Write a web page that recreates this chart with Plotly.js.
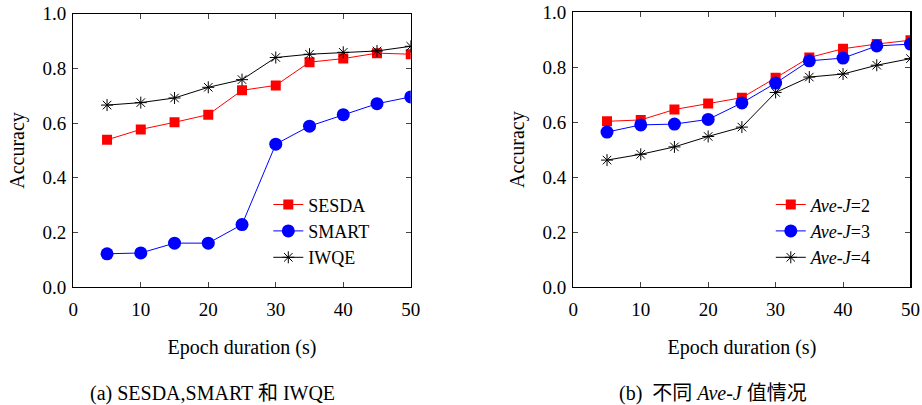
<!DOCTYPE html>
<html><head><meta charset="utf-8">
<script src="https://cdn.plot.ly/plotly-3.0.1.min.js"></script>
<style>html,body{margin:0;padding:0;background:#fff}#c{width:922px;height:405px}</style>
</head><body><div id="c"></div>
<script>
const durations = [5,10,15,20,25,30,35,40,45,50];
const sesda = [0.539,0.577,0.603,0.631,0.720,0.738,0.823,0.836,0.856,0.852];
const smart = [0.122,0.125,0.161,0.161,0.229,0.523,0.589,0.631,0.671,0.696];
const iwqe  = [0.666,0.675,0.692,0.731,0.759,0.840,0.852,0.859,0.864,0.881];
const aveJ2 = [0.603,0.608,0.646,0.668,0.689,0.761,0.835,0.867,0.884,0.898];
const aveJ3 = [0.564,0.590,0.593,0.610,0.670,0.742,0.823,0.833,0.877,0.884];
const aveJ4 = [0.462,0.483,0.510,0.548,0.582,0.708,0.764,0.775,0.807,0.831];
const leftNames = ['SESDA','SMART','IWQE'];
const rightNames = ['<i>Ave-J</i>=2','<i>Ave-J</i>=3','<i>Ave-J</i>=4'];
const xTicks = [0,10,20,30,40,50];
const yTicks = [0,0.2,0.4,0.6,0.8,1.0];

const FONT = '"Liberation Serif", "Times New Roman", serif';
const CFONT = '"Liberation Serif", "Noto Sans CJK SC", serif';
const styles = [
  {color:'#ff0000', marker:{symbol:'square', size:10, color:'#ff0000'}},
  {color:'#0000ff', marker:{symbol:'circle', size:13, color:'#0000ff'}},
  {color:'#000000', marker:{symbol:'asterisk-open', size:10, color:'#000000', line:{width:1, color:'#000'}}}
];
function tr(y, name, i, ax, leg){
  return {x:durations, y:y, name:name, type:'scatter', mode:'lines+markers',
    xaxis:ax[0], yaxis:ax[1], legend:leg,
    line:{color:styles[i].color, width:1}, marker:styles[i].marker};
}
const data = [
  tr(sesda, leftNames[0], 0, ['x','y'], 'legend'),
  tr(smart, leftNames[1], 1, ['x','y'], 'legend'),
  tr(iwqe,  leftNames[2], 2, ['x','y'], 'legend'),
  tr(aveJ2, rightNames[0], 0, ['x2','y2'], 'legend2'),
  tr(aveJ3, rightNames[1], 1, ['x2','y2'], 'legend2'),
  tr(aveJ4, rightNames[2], 2, ['x2','y2'], 'legend2')
];
function xax(dom, anchor){
  return {domain:dom, anchor:anchor, range:[0,50], tickvals:xTicks, ticks:'inside', ticklen:5,
    mirror:'ticks', showline:true, linecolor:'#000', linewidth:1.2, showgrid:false, zeroline:false,
    ticklabelstandoff:5,
    tickfont:{family:FONT,size:19,color:'#000'},
    title:{text:'Epoch duration (s)', font:{family:FONT,size:20,color:'#000'}, standoff:20}};
}
function yax(dom, anchor){
  return {domain:dom, anchor:anchor, range:[0,1], tickvals:yTicks, tickformat:'.1f', ticks:'inside', ticklen:5,
    mirror:'ticks', showline:true, linecolor:'#000', linewidth:1.2, showgrid:false, zeroline:false,
    ticklabelstandoff:2,
    tickfont:{family:FONT,size:19,color:'#000'},
    title:{text:'Accuracy', font:{family:FONT,size:20,color:'#000'}, standoff:12}};
}
const legStyle = {font:{family:FONT,size:18,color:'#000'}, bgcolor:'rgba(255,255,255,0)', borderwidth:0,
  xanchor:'left', yanchor:'top', tracegroupgap:0, itemwidth:30};
const layout = {
  width:922, height:405, margin:{l:0,r:0,t:0,b:0}, paper_bgcolor:'#fff', plot_bgcolor:'#fff',
  xaxis: xax([0.0795,0.4455],'y'),
  yaxis: yax([0.291,0.966],'x'),
  xaxis2: xax([0.6218,0.9875],'y2'),
  yaxis2: yax([0.291,0.970],'x2'),
  legend: Object.assign({x:0.291, y:0.54}, legStyle),
  legend2: Object.assign({x:0.836, y:0.54}, legStyle),
  annotations:[
    {text:'(a) SESDA,SMART 和 IWQE', x:0.2305, y:(405-393)/405, xref:'paper', yref:'paper', xanchor:'center', yanchor:'middle', showarrow:false,
      font:{family:CFONT, size:20, color:'#000'}},
    {text:'(b)  不同 <i>Ave-J</i> 值情况', x:0.7728, y:(405-393)/405, xref:'paper', yref:'paper', xanchor:'center', yanchor:'middle', showarrow:false,
      font:{family:CFONT, size:20, color:'#000'}}
  ],
  showlegend:true
};
Plotly.newPlot('c', data, layout, {staticPlot:true});
</script></body></html>
